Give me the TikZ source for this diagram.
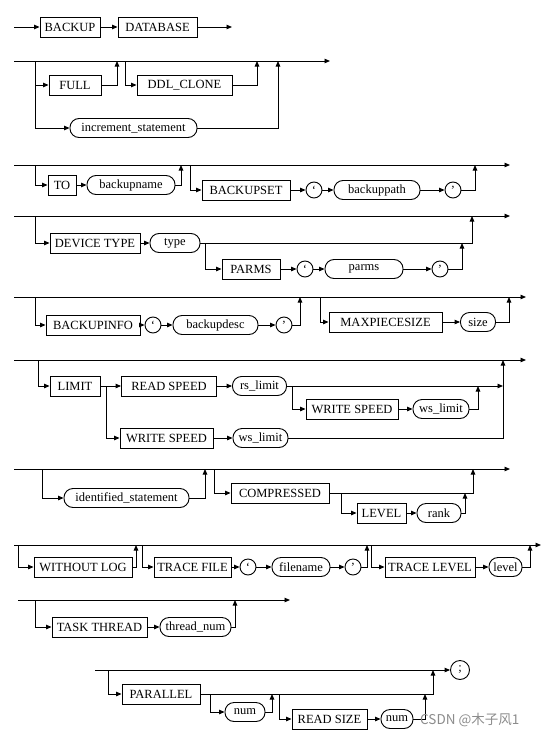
\documentclass[tikz,border=0pt]{standalone}
\usepackage{fontspec}
\setmainfont{Liberation Serif}
\newfontfamily\cjk{Noto Sans CJK SC}
\usetikzlibrary{arrows.meta}
\begin{document}
\begin{tikzpicture}[x=1pt,y=-1pt,
  ln/.style={line width=0.9pt},
  arr/.style={ln,-{Triangle[length=5.5pt,width=4.5pt]}},
  kw/.style={draw,ln,rectangle,minimum height=20pt,inner sep=1pt,font=\fontsize{12.5pt}{14pt}\selectfont},
  idf/.style={draw,ln,rounded corners=9pt,minimum height=19pt,inner sep=1pt,font=\fontsize{12.5pt}{14pt}\selectfont},
  qt/.style={draw,ln,circle,minimum size=16pt,inner sep=0pt,font=\fontsize{12.5pt}{14pt}\selectfont}]
\useasboundingbox (0,0) rectangle (554,736);
% Row 1
\coordinate (s1) at (14,27); \coordinate (e1) at (232,27);
\node[kw,minimum width=60pt] (backup) at (70,27) {BACKUP};
\node[kw,minimum width=79pt] (database) at (157.5,27) {DATABASE};
\draw[arr] (s1) -- (backup); \draw[arr] (backup) -- (database); \draw[arr] (database) -- (e1);
% Row 2
\coordinate (s2) at (14,61); \coordinate (e2) at (330,61);
\coordinate (j2a) at (35,61); \coordinate (u2a) at (117,61); \coordinate (j2b) at (125,61);
\coordinate (u2b) at (257,61); \coordinate (u2c) at (278,61);
\node[kw,minimum width=52pt] (full) at (75,85) {FULL};
\node[kw,minimum width=95pt] (ddl) at (184.5,85) {DDL\_CLONE};
\node[idf,minimum width=127pt] (inc) at (133.5,128) {increment\_statement};
\draw[arr] (s2) -- (e2);
\draw[arr] (j2a) |- (full); \draw[arr] (j2a) |- (inc);
\draw[arr] (full) -| (u2a); \draw[arr] (j2b) |- (ddl); \draw[arr] (ddl) -| (u2b); \draw[arr] (inc) -| (u2c);
% Row 3
\coordinate (s3) at (14,165); \coordinate (e3) at (510,165);
\coordinate (j3a) at (35,165); \coordinate (u3a) at (181,165);
\coordinate (j3b) at (190,165); \coordinate (u3b) at (475,165);
\node[kw,minimum width=28pt] (to) at (62,185) {TO};
\node[idf,minimum width=88pt] (bname) at (131,185) {backupname};
\node[kw,minimum width=88pt] (bset) at (246,190) {BACKUPSET};
\node[qt] (q1) at (314,190) {`};
\node[idf,minimum width=86pt] (bpath) at (377,190) {backuppath};
\node[qt] (q2) at (453,190) {'};
\draw[arr] (s3) -- (e3);
\draw[arr] (j3a) |- (to); \draw[arr] (to) -- (bname); \draw[arr] (bname) -| (u3a);
\draw[arr] (j3b) |- (bset); \draw[arr] (bset) -- (q1); \draw[arr] (q1) -- (bpath);
\draw[arr] (bpath) -- (q2); \draw[arr] (q2) -| (u3b);
% Row 4
\coordinate (s4) at (14,216); \coordinate (e4) at (510,216);
\coordinate (j4a) at (35,216); \coordinate (u4a) at (472,216);
\coordinate (j4b) at (205,243); \coordinate (u4b) at (462,243);
\node[kw,minimum width=90pt] (dtype) at (95,243) {DEVICE TYPE};
\node[idf,minimum width=50pt] (type) at (175,243) {type};
\node[kw,minimum width=58pt] (kparms) at (251,269) {PARMS};
\node[qt] (q3) at (305,269) {`};
\node[idf,minimum width=78pt] (iparms) at (364,269) {parms};
\node[qt] (q4) at (440,269) {'};
\draw[arr] (s4) -- (e4);
\draw[arr] (j4a) |- (dtype); \draw[arr] (dtype) -- (type); \draw[arr] (type) -| (u4a);
\draw[arr] (j4b) |- (kparms); \draw[arr] (kparms) -- (q3); \draw[arr] (q3) -- (iparms);
\draw[arr] (iparms) -- (q4); \draw[arr] (q4) -| (u4b);
% Row 5
\coordinate (s5) at (14,297); \coordinate (e5) at (526,297);
\coordinate (j5a) at (35,297); \coordinate (u5a) at (300,297);
\coordinate (j5b) at (320,297); \coordinate (u5b) at (509,297);
\node[kw,minimum width=94pt] (binfo) at (93,325) {BACKUPINFO};
\node[qt] (q5) at (153,325) {`};
\node[idf,minimum width=85pt] (bdesc) at (215.5,325) {backupdesc};
\node[qt] (q6) at (284,325) {'};
\node[kw,minimum width=113pt] (maxp) at (385.5,322) {MAXPIECESIZE};
\node[idf,minimum width=35pt] (size) at (478,322) {size};
\draw[arr] (s5) -- (e5);
\draw[arr] (j5a) |- (binfo); \draw[arr] (binfo) -- (q5); \draw[arr] (q5) -- (bdesc);
\draw[arr] (bdesc) -- (q6); \draw[arr] (q6) -| (u5a);
\draw[arr] (j5b) |- (maxp); \draw[arr] (maxp) -- (size); \draw[arr] (size) -| (u5b);
% Row 6
\coordinate (s6) at (14,360); \coordinate (e6) at (526,360);
\coordinate (j6a) at (38,360); \coordinate (u6a) at (503,360);
\coordinate (j6b) at (106,386); \coordinate (j6c) at (292,386);
\coordinate (m6) at (503,386); \coordinate (u6b) at (478,386);
\node[kw,minimum width=50pt] (limit) at (75,386) {LIMIT};
\node[kw,minimum width=95pt] (rspeed) at (169,386) {READ SPEED};
\node[idf,minimum width=54pt] (rsl) at (259.5,386) {rs\_limit};
\node[kw,minimum width=92pt] (wspeeda) at (352,409) {WRITE SPEED};
\node[idf,minimum width=56pt] (wsla) at (441,409) {ws\_limit};
\node[kw,minimum width=93pt] (wspeedb) at (166.5,438) {WRITE SPEED};
\node[idf,minimum width=55pt] (wslb) at (260.5,438) {ws\_limit};
\draw[arr] (s6) -- (e6);
\draw[arr] (j6a) |- (limit); \draw[arr] (limit) -- (rspeed); \draw[arr] (rspeed) -- (rsl);
\draw[arr] (rsl) -- (m6);
\draw[arr] (j6c) |- (wspeeda); \draw[arr] (wspeeda) -- (wsla); \draw[arr] (wsla) -| (u6b);
\draw[arr] (j6b) |- (wspeedb); \draw[arr] (wspeedb) -- (wslb); \draw[arr] (wslb) -| (u6a);
% Row 7
\coordinate (s7) at (14,469); \coordinate (e7) at (510,469);
\coordinate (j7a) at (42,469); \coordinate (u7a) at (205,469);
\coordinate (j7b) at (214,469); \coordinate (u7b) at (473,469);
\coordinate (j7c) at (341,493); \coordinate (u7c) at (465,493);
\node[idf,minimum width=125pt] (ident) at (126.5,498) {identified\_statement};
\node[kw,minimum width=98pt] (comp) at (280,493) {COMPRESSED};
\node[kw,minimum width=49pt] (level) at (381.5,513) {LEVEL};
\node[idf,minimum width=44pt] (rank) at (439,513) {rank};
\draw[arr] (s7) -- (e7);
\draw[arr] (j7a) |- (ident); \draw[arr] (ident) -| (u7a);
\draw[arr] (j7b) |- (comp); \draw[arr] (comp) -| (u7b);
\draw[arr] (j7c) |- (level); \draw[arr] (level) -- (rank); \draw[arr] (rank) -| (u7c);
% Row 8
\coordinate (s8) at (14,545); \coordinate (e8) at (541,545);
\coordinate (j8a) at (18,545); \coordinate (u8a) at (136,545);
\coordinate (j8b) at (142,545); \coordinate (u8b) at (367,545);
\coordinate (j8c) at (371,545); \coordinate (u8c) at (530,545);
\node[kw,minimum width=98pt] (wlog) at (83,567) {WITHOUT LOG};
\node[kw,minimum width=77pt] (tfile) at (192.5,567) {TRACE FILE};
\node[qt] (q7) at (248,567) {`};
\node[idf,minimum width=58pt] (fname) at (301,567) {filename};
\node[qt] (q8) at (353,567) {'};
\node[kw,minimum width=90pt] (tlevel) at (430,567) {TRACE LEVEL};
\node[idf,minimum width=33pt] (lvl) at (505.5,567) {level};
\draw[arr] (s8) -- (e8);
\draw[arr] (j8a) |- (wlog); \draw[arr] (wlog) -| (u8a);
\draw[arr] (j8b) |- (tfile); \draw[arr] (tfile) -- (q7); \draw[arr] (q7) -- (fname);
\draw[arr] (fname) -- (q8); \draw[arr] (q8) -| (u8b);
\draw[arr] (j8c) |- (tlevel); \draw[arr] (tlevel) -- (lvl); \draw[arr] (lvl) -| (u8c);
% Row 9
\coordinate (s9) at (18,600); \coordinate (e9) at (290,600);
\coordinate (j9a) at (35,600); \coordinate (u9a) at (235,600);
\node[kw,minimum width=95pt] (tthread) at (99.5,627) {TASK THREAD};
\node[idf,minimum width=71pt] (tnum) at (195.5,627) {thread\_num};
\draw[arr] (s9) -- (e9);
\draw[arr] (j9a) |- (tthread); \draw[arr] (tthread) -- (tnum); \draw[arr] (tnum) -| (u9a);
% Row 10
\coordinate (s10) at (95,670);
\coordinate (j10a) at (108,670); \coordinate (u10a) at (433,670);
\coordinate (j10b) at (210,694); \coordinate (u10b) at (272,694);
\coordinate (j10c) at (279,694); \coordinate (u10c) at (425,694);
\node[qt,minimum size=19pt] (semi) at (460,670) {;};
\node[kw,minimum width=78pt] (par) at (161,694) {PARALLEL};
\node[idf,minimum width=40pt] (numa) at (245,712) {num};
\node[kw,minimum width=75pt] (rsize) at (329.5,719) {READ SIZE};
\node[idf,minimum width=32pt] (numb) at (397,719) {num};
\draw[arr] (s10) -- (semi);
\draw[arr] (j10a) |- (par); \draw[arr] (par) -| (u10a);
\draw[arr] (j10b) |- (numa); \draw[arr] (numa) -| (u10b);
\draw[arr] (j10c) |- (rsize); \draw[arr] (rsize) -- (numb); \draw[arr] (numb) -| (u10c);
% watermark
\node[anchor=base west,inner sep=0pt,text=black!45,font=\cjk\fontsize{13.5pt}{15pt}\selectfont] (wm) at (420,724) {CSDN @木子风1};
\end{tikzpicture}
\end{document}
